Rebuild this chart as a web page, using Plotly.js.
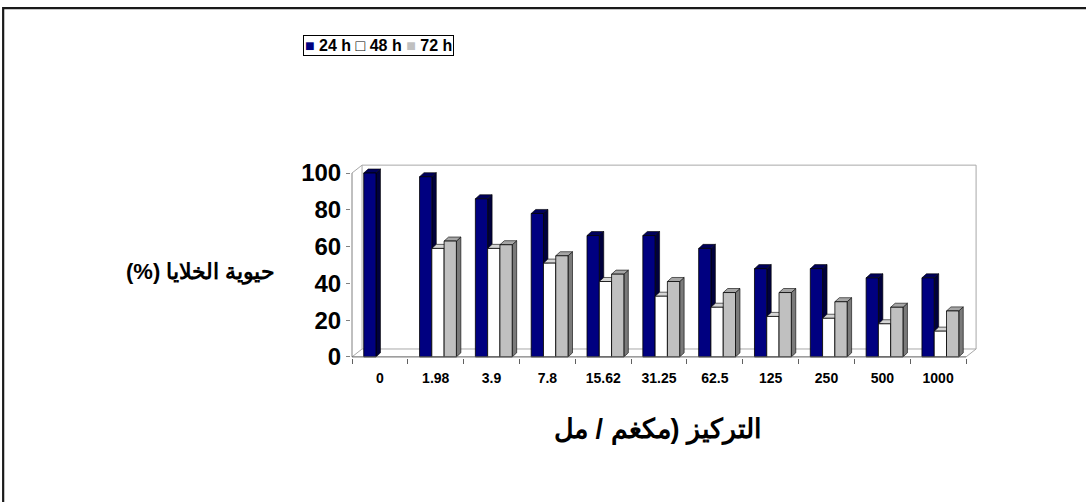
<!DOCTYPE html>
<html>
<head>
<meta charset="utf-8">
<script src="https://cdn.plot.ly/plotly-3.0.1.min.js"></script>
<style>
  html, body { margin: 0; padding: 0; background: #fff; }
  #chart { width: 1086px; height: 502px; }
</style>
</head>
<body>
<div id="chart"></div>
<script>
// Concentrations (µg/mL) on the category axis
const categories = ['0', '1.98', '3.9', '7.8', '15.62', '31.25', '62.5', '125', '250', '500', '1000'];

// Cell viability (%) per exposure time
const viability24h = [100, 98, 86, 78, 66, 66, 59, 48, 48, 43, 43];
const viability48h = [null, 59, 59, 51, 41, 33, 27, 22, 21, 18, 14];
const viability72h = [null, 63, 61, 55, 45, 41, 35, 35, 30, 27, 25];

const seriesNames = ['24 h', '48 h', '72 h'];
const yTicks = [0, 20, 40, 60, 80, 100];

// Styling for the pseudo-3D columns
const faceColors = ['#000080', '#ffffff', '#c0c0c0'];
const sideColors = ['#00003c', '#a0a0a0', '#7a7a7a'];
const topColors  = ['#00005a', '#d6d6d6', '#a6a6a6'];
const barWidth = 0.22;
const barOffsets = [-0.29, -0.07, 0.15];
const depthX = 0.08, depthY = 2.2;     // column depth (x in category units, y in %)
const wallX = 0.18, wallY = 4.3;       // back wall depth
const FONT = 'Liberation Sans, Arial, sans-serif';

const allSeries = [viability24h, viability48h, viability72h];
const idx = categories.map((_, i) => i);

const traces = allSeries.map((vals, k) => ({
  type: 'bar',
  name: seriesNames[k],
  x: idx,
  y: vals,
  width: barWidth,
  offset: barOffsets[k],
  marker: { color: faceColors[k], line: { color: '#000', width: 0.8 } },
  showlegend: false,
  hoverinfo: 'skip'
}));

const shapes = [];
const p = (x, y) => x.toFixed(4) + ',' + y.toFixed(4);

// back wall and floor outline
const wallLine = { color: '#a8a8a8', width: 1 };
const L = -0.5, R = categories.length - 0.5;
[
  [L, 100, L + wallX, 100 + wallY],
  [L + wallX, 100 + wallY, R + wallX, 100 + wallY],
  [R + wallX, 100 + wallY, R + wallX, wallY],
  [L + wallX, wallY, L + wallX, 100 + wallY],
  [L + wallX, wallY, R + wallX, wallY],
  [L, 0, L + wallX, wallY],
  [R, 0, R + wallX, wallY]
].forEach(s => shapes.push({
  type: 'line', xref: 'x', yref: 'y', layer: 'below',
  x0: s[0], y0: s[1], x1: s[2], y1: s[3], line: wallLine
}));

// column side and top faces, drawn behind the front faces
allSeries.forEach((vals, k) => {
  vals.forEach((v, i) => {
    if (v === null) return;
    const x0 = i + barOffsets[k], x1 = x0 + barWidth;
    shapes.push({
      type: 'path', xref: 'x', yref: 'y', layer: 'below',
      path: 'M' + p(x1, 0) + ' L' + p(x1 + depthX, depthY) + ' L' + p(x1 + depthX, v + depthY) + ' L' + p(x1, v) + ' Z',
      fillcolor: sideColors[k], line: { color: '#000', width: 0.6 }
    });
    shapes.push({
      type: 'path', xref: 'x', yref: 'y', layer: 'below',
      path: 'M' + p(x0, v) + ' L' + p(x1, v) + ' L' + p(x1 + depthX, v + depthY) + ' L' + p(x0 + depthX, v + depthY) + ' Z',
      fillcolor: topColors[k], line: { color: '#000', width: 0.6 }
    });
  });
});

// axis lines
shapes.push({ type: 'line', xref: 'x', yref: 'y', x0: L, y0: 0, x1: L, y1: 100, line: { color: '#808080', width: 1 } });
shapes.push({ type: 'line', xref: 'x', yref: 'y', x0: L, y0: 0, x1: R, y1: 0, line: { color: '#606060', width: 1 } });

// outer frame (top and left edges)
shapes.push({
  type: 'path', xref: 'paper', yref: 'paper',
  path: 'M -0.553,-0.8 L -0.553,1.785 L 1.18,1.785',
  line: { color: '#1a1a1a', width: 2.2 }
});

// legend box
const legendText = seriesNames.map((n, k) => {
  const glyph = k === 1 ? '□' : '■';
  const col = k === 1 ? '#000' : faceColors[k];
  return '<span style="color:' + col + ';font-size:16px">' + glyph + '</span> ' + n;
}).join(' ');

const annotations = [
  {
    xref: 'paper', yref: 'paper', x: 0.0437, y: 1.592, xanchor: 'center', yanchor: 'middle',
    text: '<b>' + legendText + '</b>', showarrow: false,
    font: { family: FONT, size: 16, color: '#000' },
    bordercolor: '#000', borderwidth: 1, borderpad: 1, bgcolor: '#fff'
  },
  {
    xref: 'paper', yref: 'paper', x: -0.240, y: 0.439, xanchor: 'center', yanchor: 'middle',
    text: '<b>حيوية الخلايا (%)\u200F</b>', showarrow: false,
    font: { family: FONT, size: 22, color: '#000' }
  },
  {
    xref: 'paper', yref: 'paper', x: 0.488, y: -0.366, xanchor: 'center', yanchor: 'middle',
    text: '<b>التركيز (مكغم / مل</b>', showarrow: false,
    font: { family: FONT, size: 27, color: '#000' }
  }
];

const layout = {
  width: 1086, height: 502,
  margin: { l: 351, r: 106, t: 162, b: 144, pad: 0 },
  paper_bgcolor: '#fff', plot_bgcolor: 'rgba(0,0,0,0)',
  showlegend: false,
  xaxis: {
    type: 'linear', range: [-0.518, 10.75],
    tickmode: 'array', tickvals: idx, ticktext: categories,
    ticks: '', showgrid: false, zeroline: false, showline: false,
    ticklabelstandoff: 10,
    tickfont: { family: FONT, size: 14, color: '#000', weight: 'bold' },
    minor: {
      tickmode: 'array', tickvals: categories.concat(['']).map((_, i) => i - 0.5),
      ticks: 'outside', ticklen: 5, tickwidth: 1, tickcolor: '#606060', showgrid: false
    }
  },
  yaxis: {
    range: [-0.6, 106],
    tickmode: 'array', tickvals: yTicks, ticktext: yTicks.map(String),
    ticks: 'outside', ticklen: 4, tickwidth: 1, tickcolor: '#808080',
    showgrid: false, zeroline: false, showline: false,
    tickfont: { family: FONT, size: 24, color: '#000', weight: 'bold' }
  },
  shapes: shapes,
  annotations: annotations
};

Plotly.newPlot('chart', traces, layout, { staticPlot: true, displayModeBar: false });
</script>
</body>
</html>
